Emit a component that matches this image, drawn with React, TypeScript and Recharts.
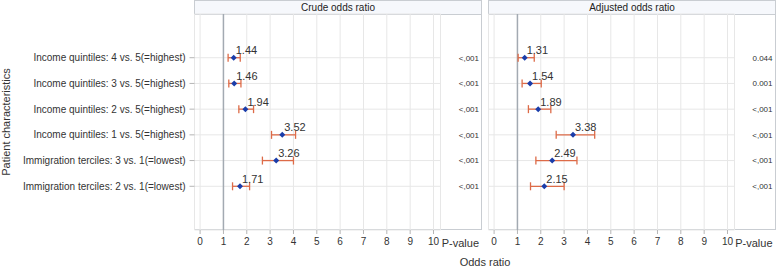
import React from 'react';
import {
  ScatterChart,
  Scatter,
  XAxis,
  YAxis,
  CartesianGrid,
  ErrorBar,
  ReferenceLine,
  Label,
} from 'recharts';

const categories = [
  'Income quintiles: 4 vs. 5(=highest)',
  'Income quintiles: 3 vs. 5(=highest)',
  'Income quintiles: 2 vs. 5(=highest)',
  'Income quintiles: 1 vs. 5(=highest)',
  'Immigration terciles: 3 vs. 1(=lowest)',
  'Immigration terciles: 2 vs. 1(=lowest)',
];

const crudeOR = [1.44, 1.46, 1.94, 3.52, 3.26, 1.71];
const crudeLow = [1.2, 1.23, 1.66, 3.06, 2.67, 1.39];
const crudeHigh = [1.72, 1.75, 2.29, 4.09, 4.0, 2.12];
const crudeP = ['<,001', '<,001', '<,001', '<,001', '<,001', '<,001'];

const adjOR = [1.31, 1.54, 1.89, 3.38, 2.49, 2.15];
const adjLow = [1.03, 1.2, 1.47, 2.66, 1.79, 1.56];
const adjHigh = [1.72, 2.02, 2.43, 4.31, 3.55, 3.0];
const adjP = ['0.044', '0.001', '<,001', '<,001', '<,001', '<,001'];

const xTicks = [0, 1, 2, 3, 4, 5, 6, 7, 8, 9, 10];
const rowTicks = [0, 1, 2, 3, 4, 5];

const FONT = 'Arial, "Liberation Sans", Helvetica, sans-serif';
const X_DOMAIN: [number, number] = [-0.24, 10.3];
const ROW_DOMAIN: [number, number] = [-1.7, 6.7];
const FRAME = '#c9cdd2';
const GRID = '#e7e7e7';
const TEXT = '#333333';
const POINT = '#1a3daa';
const BAR = '#dd6b48';

function buildRows(or: number[], lo: number[], hi: number[]) {
  return or.map((v, i) => ({ row: i, or: v, err: [v - lo[i], hi[i] - v] }));
}

const crudeRows = buildRows(crudeOR, crudeLow, crudeHigh);
const adjRows = buildRows(adjOR, adjLow, adjHigh);

const PointShape = (props: any) => {
  const { cx, cy, payload } = props;
  if (cx == null || cy == null) return <g />;
  const r = 3;
  return (
    <g>
      <path d={`M${cx},${cy - r}L${cx + r},${cy}L${cx},${cy + r}L${cx - r},${cy}Z`} fill={POINT} />
      <text x={cx + 2} y={cy - 3.5} fontSize={11} fill={TEXT} fontFamily={FONT}>
        {payload.or.toFixed(2)}
      </text>
    </g>
  );
};

const EmptyShape = () => <g />;

const makePTick = (labels: string[], w: number) => (props: any) => {
  const { x, y, payload } = props;
  return (
    <text x={x + w - 3} y={y} dy="0.35em" textAnchor="end" fontSize={8} fill={TEXT} fontFamily={FONT}>
      {labels[payload.value]}
    </text>
  );
};

const CatTick = (props: any) => {
  const { x, y, payload } = props;
  return (
    <text x={x} y={y} dy="0.35em" textAnchor="end" fontSize={10} fill={TEXT} fontFamily={FONT}>
      {categories[payload.value]}
    </text>
  );
};

const PValueLabel = (props: any) => {
  const vb = props.viewBox || {};
  return (
    <text
      x={vb.x + vb.width - 3}
      y={vb.y + vb.height + 17}
      textAnchor="end"
      fontSize={11}
      fill={TEXT}
      fontFamily={FONT}
    >
      P-value
    </text>
  );
};

const YTitle = (props: any) => {
  const vb = props.viewBox || {};
  const x = 6;
  const y = vb.y + vb.height / 2;
  return (
    <text
      x={x}
      y={y}
      transform={`rotate(-90 ${x} ${y})`}
      textAnchor="middle"
      dominantBaseline="central"
      fontSize={11}
      fill={TEXT}
      fontFamily={FONT}
    >
      Patient characteristics
    </text>
  );
};

function Panel(props: {
  rows: any[];
  pLabels: string[];
  width: number;
  leftW: number;
  showCats: boolean;
  marginLeft: number;
  marginRight: number;
  rightW: number;
}) {
  const { rows, pLabels, width, leftW, showCats, marginLeft, marginRight, rightW } = props;
  return (
    <ScatterChart
      width={width}
      height={268}
      margin={{ top: 14, right: marginRight, bottom: 0, left: marginLeft }}
      style={{ fontFamily: FONT }}
    >
      <CartesianGrid stroke={GRID} strokeWidth={1} />
      <XAxis
        type="number"
        dataKey="or"
        domain={X_DOMAIN}
        ticks={xTicks}
        interval={0}
        height={38}
        axisLine={false}
        tickLine={{ stroke: '#b5b5b5' }}
        tickSize={4}
        tickMargin={4}
        tick={{ fontSize: 10, fill: TEXT, fontFamily: FONT }}
      />
      <YAxis
        type="number"
        dataKey="row"
        domain={ROW_DOMAIN}
        ticks={rowTicks}
        interval={0}
        reversed
        hide={!showCats}
        width={leftW}
        axisLine={false}
        tickLine={{ stroke: '#b5b5b5' }}
        tickSize={5}
        tickMargin={4}
        tick={<CatTick />}
      >
        {showCats ? <Label content={<YTitle />} /> : null}
      </YAxis>
      <YAxis
        yAxisId="p"
        orientation="right"
        type="number"
        dataKey="row"
        domain={ROW_DOMAIN}
        ticks={rowTicks}
        interval={0}
        reversed
        width={rightW}
        axisLine={false}
        tickLine={false}
        tickSize={0}
        tickMargin={0}
        tick={makePTick(pLabels, rightW)}
      >
        <Label content={<PValueLabel />} />
      </YAxis>
      <ReferenceLine x={1} stroke="#a3aab2" strokeWidth={1.5} />
      <Scatter data={rows} isAnimationActive={false} shape={<PointShape />}>
        <ErrorBar
          dataKey="err"
          direction="x"
          width={4}
          stroke={BAR}
          strokeWidth={1.3}
          isAnimationActive={false}
        />
      </Scatter>
      <Scatter data={rows} yAxisId="p" isAnimationActive={false} shape={<EmptyShape />} />
    </ScatterChart>
  );
}

const frameStyle = (left: number, width: number): React.CSSProperties => ({
  position: 'absolute',
  left,
  top: 0,
  width,
  height: 230,
  boxSizing: 'border-box',
  border: `1px solid ${FRAME}`,
});

const headerStyle: React.CSSProperties = {
  height: 14,
  boxSizing: 'border-box',
  borderBottom: `1px solid ${FRAME}`,
  background: '#f6f8fc',
  fontSize: 10,
  lineHeight: '13px',
  textAlign: 'center',
  color: '#222',
  fontFamily: FONT,
};

export default function App() {
  return (
    <div
      style={{
        position: 'absolute',
        left: 0,
        top: 0,
        width: 777,
        height: 268,
        background: '#ffffff',
        fontFamily: FONT,
        overflow: 'hidden',
      }}
    >
      <div style={frameStyle(194, 288)}>
        <div style={headerStyle}>Crude odds ratio</div>
      </div>
      <div style={frameStyle(488, 288)}>
        <div style={headerStyle}>Adjusted odds ratio</div>
      </div>
      <div style={{ position: 'absolute', left: 0, top: 0 }}>
        <Panel
          rows={crudeRows}
          pLabels={crudeP}
          width={482}
          leftW={194.5}
          showCats
          marginLeft={0}
          marginRight={0}
          rightW={41.5}
        />
      </div>
      <div style={{ position: 'absolute', left: 482, top: 0 }}>
        <Panel
          rows={adjRows}
          pLabels={adjP}
          width={295}
          leftW={0}
          showCats={false}
          marginLeft={6.5}
          marginRight={1.5}
          rightW={41}
        />
      </div>
      <div
        style={{
          position: 'absolute',
          left: 385,
          width: 200,
          top: 256,
          textAlign: 'center',
          fontSize: 11,
          lineHeight: '13px',
          color: TEXT,
        }}
      >
        Odds ratio
      </div>
    </div>
  );
}
